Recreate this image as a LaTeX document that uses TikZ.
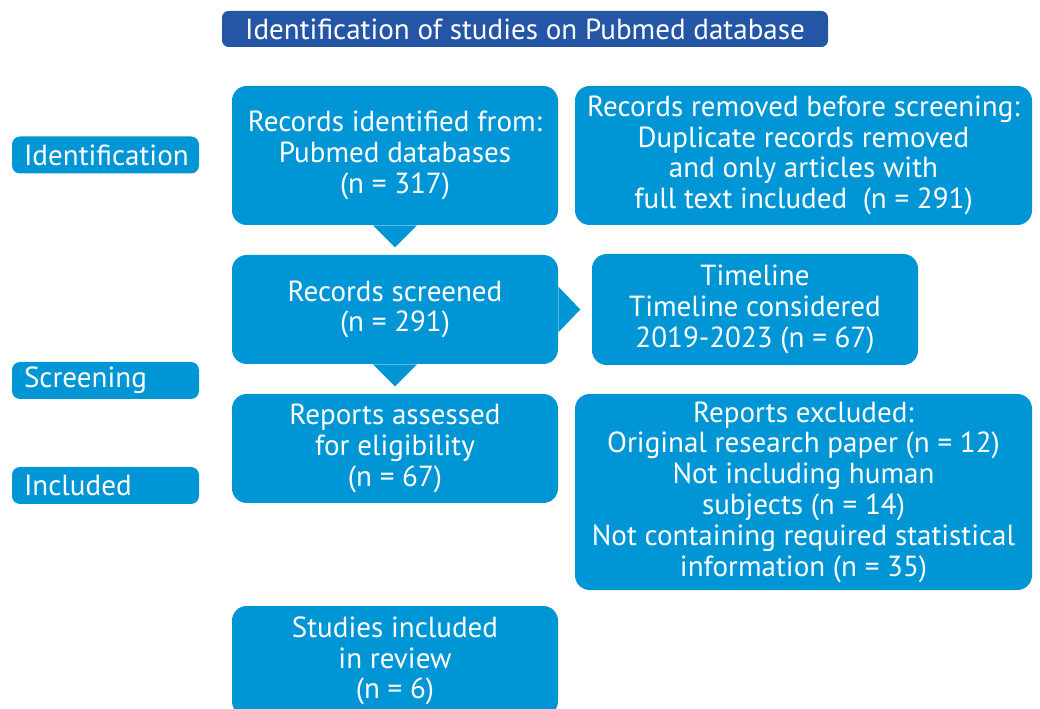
\documentclass[tikz,border=0pt]{standalone}
\usepackage{fontspec}
\setmainfont{PT Sans}
\usetikzlibrary{calc}
\definecolor{boxblue}{HTML}{0096D6}
\definecolor{titleblue}{HTML}{2556A6}
\begin{document}
\begin{tikzpicture}[x=0.75pt,y=-0.75pt,
  txt/.style={text=white,font=\fontsize{21.8pt}{23.1pt}\selectfont},
  flowbox/.style={txt,fill=boxblue,rounded corners=11pt,inner sep=0pt,
    align=center,minimum width=#1},
  flowbox/.default=244.5pt,
  phase/.style={txt,fill=boxblue,rounded corners=6pt,inner xsep=9pt,inner ysep=0pt,
    minimum width=140.25pt,minimum height=27.75pt,text width=122.25pt,align=left},
  tri/.style={fill=boxblue}]
\useasboundingbox (0,0) rectangle (1040,709);
\begin{scope}
\clip (0,0) rectangle (1040,709);

% heading
\node[txt,fill=titleblue,rounded corners=5pt,minimum width=454.5pt,minimum height=27pt,inner sep=0pt]
  (title) at (525,29) {Identification of studies on Pubmed database};

% phase labels
\node[phase] (pid) at (105.5,155) {Identification};
\node[phase] (psc) at (105.5,380.5) {Screening};
\node[phase] (pin) at (105.5,485.5) {Included};

% flow boxes
\node[flowbox,minimum height=104.25pt] (ident) at (395,155.5)
  {Records identified from:\\Pubmed databases\\(n = 317)};
\node[flowbox=342.75pt,minimum height=104.25pt] (removed) at (803.5,155.5)
  {Records removed before screening:\\Duplicate records removed\\and only articles with\\full text included\ \ (n = 291)};
\node[flowbox,minimum height=81.75pt] (screen) at (395,309.5)
  {Records screened\\(n = 291)};
\node[flowbox,minimum height=83.25pt] (time) at (755,309.5)
  {Timeline\\Timeline considered\\2019-2023 (n = 67)};
\node[flowbox,minimum height=81.75pt] (assess) at (395,448.5)
  {Reports assessed\\for eligibility\\(n = 67)};
\node[flowbox=342.75pt,minimum height=147pt] (excl) at (803.5,492)
  {Reports excluded:\\Original research paper (n = 12)\\Not including human\\subjects (n = 14)\\Not containing required statistical\\information (n = 35)};
\node[flowbox,minimum height=82.5pt] (incl) at (395,661)
  {Studies included\\in review\\(n = 6)};

% pointer triangles between boxes
\fill[tri] ($(ident.south)+(-22,0)$) -- ($(ident.south)+(22,0)$) -- ($(ident.south)+(0,22)$) -- cycle;
\fill[tri] ($(screen.south)+(-22,0)$) -- ($(screen.south)+(22,0)$) -- ($(screen.south)+(0,22)$) -- cycle;
\fill[tri] ($(screen.east)+(0,-23)$) -- ($(screen.east)+(0,23)$) -- ($(screen.east)+(22,0)$) -- cycle;
\end{scope}
\end{tikzpicture}
\end{document}
